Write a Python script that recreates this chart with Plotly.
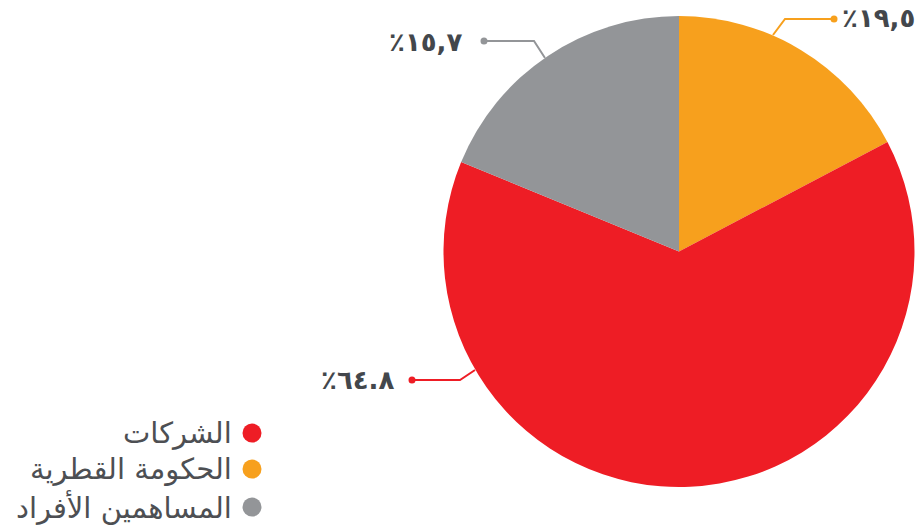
import plotly.graph_objects as go

W, H = 919, 528

# ---- data ----
categories = ["الحكومة القطرية", "الشركات", "المساهمين الأفراد"]
values = [17.3, 63.9, 18.8]
pct_labels = ["٪١٩,٥", "٪٦٤.٨", "٪١٥,٧"]
colors = ["#F7A01D", "#EE1D25", "#939598"]

legend_order = ["الشركات", "الحكومة القطرية", "المساهمين الأفراد"]

# ---- layout helpers (pixel -> paper) ----
def px(x):
    return x / W

def py(y):
    return 1 - y / H

cx, cy, r = 679, 251.5, 235.5

fig = go.Figure(go.Pie(
    labels=categories,
    values=values,
    marker=dict(colors=colors, line=dict(width=0)),
    sort=False,
    direction="clockwise",
    rotation=0,
    textinfo="none",
    hoverinfo="label+percent",
    showlegend=False,
    domain=dict(x=[px(cx - r), px(cx + r)], y=[py(cy + r), py(cy - r)]),
))

# leader lines (pixel points), label positions
leaders = {
    0: dict(pts=[(773, 35), (785, 19), (834, 19)], text=(917, 18), anchor="right"),
    1: dict(pts=[(475, 370), (460, 380), (412, 380)], text=(396, 380), anchor="right"),
    2: dict(pts=[(545, 58), (534, 41), (484, 41)], text=(464, 42), anchor="right"),
}

shapes = []
annotations = []
for i, info in leaders.items():
    pts = info["pts"]
    path = "M " + " L ".join(f"{px(x)},{py(y)}" for x, y in pts)
    shapes.append(dict(type="path", xref="paper", yref="paper", path=path,
                       line=dict(color=colors[i], width=2)))
    dx, dy = pts[-1]
    shapes.append(dict(type="circle", xref="paper", yref="paper",
                       x0=px(dx - 3.5), x1=px(dx + 3.5), y0=py(dy + 3.5), y1=py(dy - 3.5),
                       fillcolor=colors[i], line=dict(width=0)))
    tx, ty = info["text"]
    annotations.append(dict(x=px(tx), y=py(ty), xref="paper", yref="paper",
                            text=f"<b>{pct_labels[i]}</b>", showarrow=False,
                            xanchor=info["anchor"], yanchor="middle",
                            font=dict(family="DejaVu Sans", size=26, color="#43474c")))

# custom RTL legend
legend_y = [433, 469, 507]
for k, name in enumerate(legend_order):
    ci = categories.index(name)
    y = legend_y[k]
    shapes.append(dict(type="circle", xref="paper", yref="paper",
                       x0=px(252 - 9.5), x1=px(252 + 9.5), y0=py(y + 9.5), y1=py(y - 9.5),
                       fillcolor=colors[ci], line=dict(width=0)))
    annotations.append(dict(x=px(234), y=py(y), xref="paper", yref="paper",
                            text=name, showarrow=False, xanchor="right", yanchor="middle",
                            font=dict(family="DejaVu Sans", size=29, color="#4d4f53")))

fig.update_layout(
    width=W, height=H,
    margin=dict(l=0, r=0, t=0, b=0),
    paper_bgcolor="white", plot_bgcolor="white",
    shapes=shapes, annotations=annotations,
)

fig.write_html("out.html", config={"displayModeBar": False},
               post_script="document.body.style.margin='0';document.body.style.overflow='hidden';")
